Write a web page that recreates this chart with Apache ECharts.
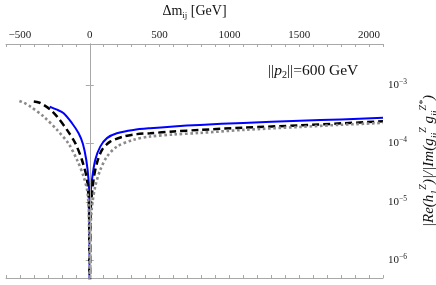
<!DOCTYPE html>
<html><head><meta charset="utf-8">
<script src="https://cdn.jsdelivr.net/npm/echarts@6/dist/echarts.min.js"></script>
<style>html,body{margin:0;padding:0;background:#fff}#c{width:436px;height:285px}</style>
</head><body><div id="c"></div>
<script>
// Δm_ij [GeV] and ratio values
const blueX = [-287,-240,-187,-127,-80,-49,-25,-9,-3,0,3,16,39,75,123,194,313,432,600,789,1100,1504,1800,2100];
const blueY = [4.26e-4,3.81e-4,3.28e-4,2.21e-4,1.49e-4,9.8e-5,5.2e-5,2.4e-5,1.1e-5,1e-9,1.0e-5,2.4e-5,5.2e-5,8.8e-5,1.23e-4,1.49e-4,1.70e-4,1.82e-4,1.95e-4,2.07e-4,2.24e-4,2.43e-4,2.57e-4,2.73e-4];
const blackX = [-401,-365,-330,-280,-234,-163,-104,-56,-20,-5,0,5,27,51,87,146,241,337,432,600,789,1100,1504,1800,2100];
const blackY = [5.19e-4,5.0e-4,4.55e-4,3.74e-4,2.87e-4,1.70e-4,1.01e-4,5.2e-5,2.4e-5,7e-6,1e-9,6e-6,2.4e-5,4.6e-5,7.7e-5,1.07e-4,1.31e-4,1.44e-4,1.49e-4,1.60e-4,1.70e-4,1.86e-4,2.03e-4,2.2e-4,2.38e-4];
const grayX = [-504,-470,-425,-330,-234,-151,-91,-44,-16,-5,0,5,15,39,75,123,194,313,432,600,789,1100,1504,1800,2100];
const grayY = [5.32e-4,4.92e-4,4.26e-4,2.87e-4,1.70e-4,9.8e-5,5.2e-5,2.7e-5,1.43e-5,4.5e-6,1e-9,3e-6,8e-6,1.83e-5,3.52e-5,5.94e-5,8.81e-5,1.15e-4,1.31e-4,1.42e-4,1.51e-4,1.70e-4,1.91e-4,2.08e-4,2.24e-4];
const xTickLabels = [-500, 0, 500, 1000, 1500, 2000];
const yTickExponents = [-6, -5, -4, -3];

const pair = (xs, ys) => xs.map((x, i) => [x, ys[i]]);
const SERIF = '"Liberation Serif","DejaVu Serif",serif';
const AX = '#a8a8a8';

const chart = echarts.init(document.getElementById('c'), null, {renderer: 'canvas'});
const xBase = {
  type: 'value', min: -600, max: 2100, interval: 100,
  axisLine: {show: true, lineStyle: {color: AX, width: 1}},
  axisTick: {show: true, inside: true, length: 3, lineStyle: {color: AX}},
  splitLine: {show: false}
};
const yBase = {
  type: 'log', logBase: 10, min: 5e-7, max: 5e-3,
  axisLine: {show: true, lineStyle: {color: AX, width: 1}},
  axisTick: {show: true, inside: true, length: 4, lineStyle: {color: AX}},
  splitLine: {show: false}, minorTick: {show: false}
};
chart.setOption({
  animation: false,
  backgroundColor: '#fff',
  grid: {left: 6, right: 53, top: 44, bottom: 7, containLabel: false, outerBoundsMode: 'none'},
  title: {
    text: '{t|||}{i|p}{s|2}{t|||=600 GeV}',
    left: 268, top: 61, padding: 0,
    textStyle: {
      fontWeight: 'normal',
      rich: {
        t: {fontFamily: SERIF, fontSize: 15.5, fontWeight: 'normal', color: '#111', lineHeight: 19, verticalAlign: 'middle'},
        i: {fontFamily: SERIF, fontSize: 15.5, fontWeight: 'normal', fontStyle: 'italic', color: '#111', lineHeight: 19, verticalAlign: 'middle'},
        s: {fontFamily: SERIF, fontSize: 10, fontWeight: 'normal', color: '#111', lineHeight: 12, verticalAlign: 'bottom'}
      }
    }
  },
  xAxis: [
    Object.assign({}, xBase, {position: 'bottom', axisLabel: {show: false}}),
    Object.assign({}, xBase, {
      position: 'top',
      name: '{t|Δm}{s|ij}{t| [GeV]}', nameLocation: 'middle', nameGap: 24,
      nameTextStyle: {
        rich: {
          t: {fontFamily: SERIF, fontSize: 14, color: '#111', lineHeight: 18, verticalAlign: 'middle'},
          s: {fontFamily: SERIF, fontSize: 9, color: '#111', lineHeight: 12, verticalAlign: 'bottom'}
        }
      },
      axisLabel: {
        show: true, margin: 3, fontFamily: SERIF, fontSize: 11, color: '#222',
        formatter: v => xTickLabels.indexOf(v) >= 0 ? (v < 0 ? '−' + (-v) : String(v)) : ''
      }
    })
  ],
  yAxis: [
    Object.assign({}, yBase, {
      position: 'right',
      name: '{t||Re(}{i|h}{s|1}{p|Z}{t|)|/|Im(}{i|g}{s|ij}{p|Z}{i| g}{s|ji}{p|Z*}{t|)}',
      nameLocation: 'middle', nameRotate: 90, nameGap: 30,
      nameTextStyle: {
        rich: {
          t: {fontFamily: SERIF, fontSize: 15, fontStyle: 'italic', color: '#111', lineHeight: 22, verticalAlign: 'middle'},
          i: {fontFamily: SERIF, fontSize: 15, fontStyle: 'italic', color: '#111', lineHeight: 22, verticalAlign: 'middle'},
          p: {fontFamily: SERIF, fontSize: 10, fontStyle: 'italic', color: '#111', lineHeight: 12, verticalAlign: 'top'},
          s: {fontFamily: SERIF, fontSize: 10, fontStyle: 'italic', color: '#111', lineHeight: 12, verticalAlign: 'bottom'}
        }
      },
      axisLabel: {
        show: true, margin: 5,
        formatter: v => {
          const l = Math.log10(v), e = Math.round(l);
          if (Math.abs(l - e) > 0.01 || yTickExponents.indexOf(e) < 0) return '';
          return '{b|10}{s|−' + (-e) + '}';
        },
        rich: {
          b: {fontFamily: SERIF, fontSize: 11, color: '#222', lineHeight: 14, verticalAlign: 'middle'},
          s: {fontFamily: SERIF, fontSize: 7.5, color: '#222', lineHeight: 8, verticalAlign: 'top'}
        }
      }
    }),
    Object.assign({}, yBase, {position: 'left', axisLabel: {show: false}})
  ],
  series: [
    {
      type: 'line', data: pair(blueX, blueY), xAxisIndex: 0, yAxisIndex: 0,
      showSymbol: false, smooth: 0.3, clip: true,
      lineStyle: {color: '#0000ff', width: 2, type: 'solid'},
      markLine: {
        silent: true, symbol: 'none', label: {show: false},
        lineStyle: {color: '#a8a8a8', width: 1, type: 'solid'},
        data: [{xAxis: 0}]
      }
    },
    {
      type: 'line', data: pair(blackX, blackY), xAxisIndex: 0, yAxisIndex: 0,
      showSymbol: false, smooth: 0.3, clip: true,
      lineStyle: {color: '#000', width: 2.5, type: [7, 4], cap: 'butt'}
    },
    {
      type: 'line', data: pair(grayX, grayY), xAxisIndex: 0, yAxisIndex: 0,
      showSymbol: false, smooth: 0.3, clip: true,
      lineStyle: {color: '#8a8a8a', width: 2.6, type: [2.6, 2.6], cap: 'butt'}
    }
  ]
});
</script></body></html>
